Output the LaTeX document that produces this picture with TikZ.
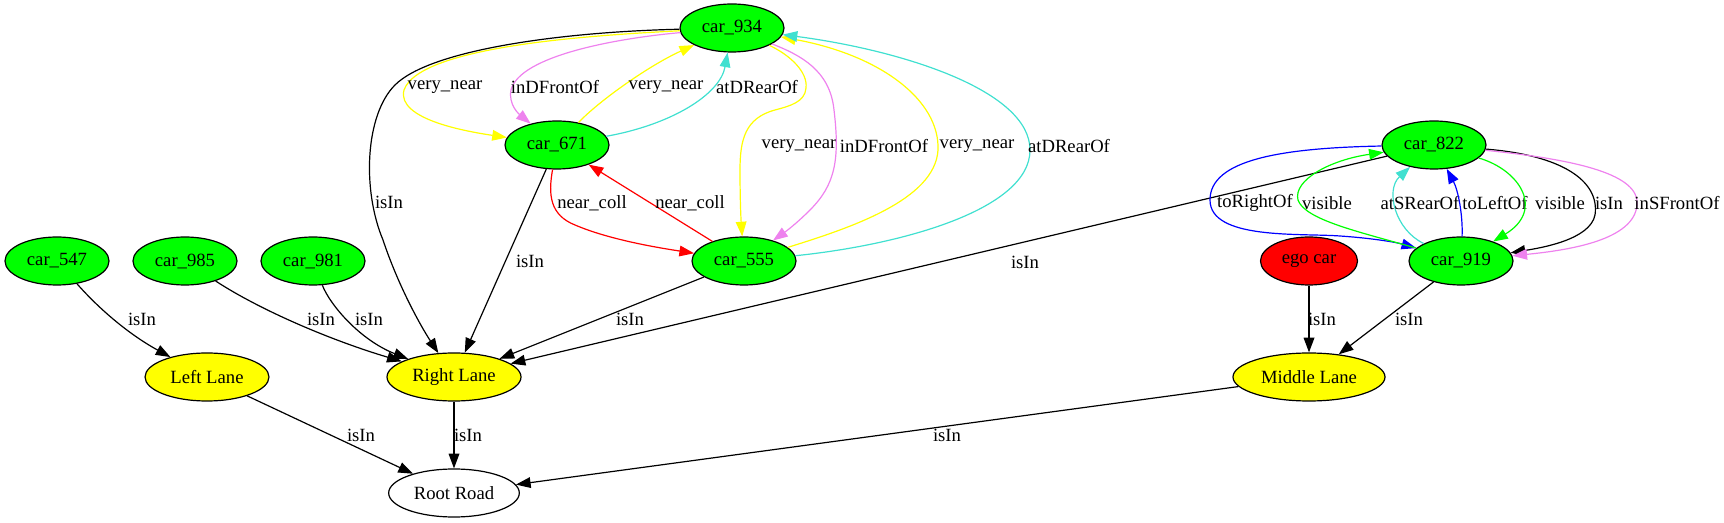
\documentclass[tikz,border=0pt]{standalone}
\usepackage{fontspec}
\setmainfont{Liberation Serif}
\usetikzlibrary{shapes.geometric,arrows.meta}
\definecolor{gvgreen}{HTML}{00FF00}
\definecolor{gvyellow}{HTML}{FFFF00}
\definecolor{gvred}{HTML}{FF0000}
\definecolor{gvturq}{HTML}{40E0D0}
\definecolor{gvviolet}{HTML}{EE82EE}
\definecolor{gvblue}{HTML}{0000FF}
\begin{document}
\begin{tikzpicture}[x=0.75pt,y=-0.75pt,
	every node/.style={font=\fontsize{14}{16}\selectfont},
	obj/.style={ellipse,draw=black,line width=0.9pt,inner sep=0pt,minimum width=78pt,minimum height=36pt},
	car/.style={obj,fill=gvgreen},
	lane/.style={obj,fill=gvyellow},
	rel/.style={line width=0.9pt,-{Triangle[length=11pt,width=8pt]}},
	lbl/.style={inner sep=0pt}]
	\useasboundingbox (0,0) rectangle (1724,523);
	% cars
	\node[car] (c934) at (732,28) {car\_934};
	\node[car] (c671) at (557,145) {car\_671};
	\node[car] (c822) at (1434,145) {car\_822};
	\node[car] (c547) at (57,261) {car\_547};
	\node[car] (c985) at (185,261) {car\_985};
	\node[car] (c981) at (313,261) {car\_981};
	\node[car] (c555) at (744,261) {car\_555};
	\node[car] (c919) at (1461,261) {car\_919};
	\node[obj,fill=gvred,minimum width=72.75pt] (ego) at (1309,261) {ego car};
	% lanes and road
	\node[lane,minimum width=93pt] (left) at (207,377) {Left Lane};
	\node[lane,minimum width=100.5pt] (right) at (454,377) {Right Lane};
	\node[lane,minimum width=114pt] (middle) at (1309,377) {Middle Lane};
	\node[obj,fill=white,minimum width=98pt] (root) at (454,493) {Root Road};
	% car_934 edges
	\draw[rel,black] (c934) .. controls (560,32) and (430,50) .. (395,85) .. controls (365,115) and (362,190) .. (383,240) .. controls (398,285) and (420,325) .. (right);
	\node[lbl] (isin934) at (389,202) {isIn};
	\draw[rel,gvyellow] (c934) .. controls (600,35) and (420,45) .. (404,90) .. controls (396,120) and (470,132) .. (c671);
	\node[lbl] (vn934a) at (445,87) {very\_near};
	\draw[rel,gvviolet] (c934) .. controls (620,38) and (520,55) .. (511,90) .. controls (508,105) and (520,115) .. (c671);
	\node[lbl] (fr934a) at (555,87) {inDFrontOf};
	\draw[rel,gvyellow] (c934) .. controls (790,55) and (808,72) .. (806,88) .. controls (805,102) and (790,106) .. (775,110) .. controls (745,118) and (740,140) .. (740,170) .. controls (740,200) and (741,220) .. (c555);
	\node[lbl] (vn934b) at (799,146) {very\_near};
	\draw[rel,gvviolet] (c934) .. controls (800,55) and (830,70) .. (834,110) .. controls (840,160) and (835,185) .. (810,210) .. controls (795,225) and (785,232) .. (c555);
	\node[lbl] (fr934b) at (884,146) {inDFrontOf};
	% car_671 edges
	\draw[rel,gvyellow] (c671) .. controls (600,100) and (650,65) .. (c934);
	\node[lbl] (vn671) at (666,87) {very\_near};
	\draw[rel,gvturq] (c671) .. controls (670,125) and (720,95) .. (c934);
	\node[lbl] (rr671) at (757,87) {atDRearOf};
	\draw[rel,gvred] (c671) .. controls (548,195) and (550,215) .. (575,225) .. controls (610,240) and (660,248) .. (c555);
	\node[lbl] (nc671) at (592,203) {near\_coll};
	\draw[rel,black] (c671) -- (right);
	\node[lbl] (isin671) at (530,261) {isIn};
	% car_555 edges
	\draw[rel,gvred] (c555) -- (c671);
	\node[lbl] (nc555) at (690,203) {near\_coll};
	\draw[rel,gvyellow] (c555) .. controls (850,228) and (935,200) .. (938,150) .. controls (940,100) and (880,55) .. (c934);
	\node[lbl] (vn555) at (977,146) {very\_near};
	\draw[rel,gvturq] (c555) .. controls (900,245) and (1030,210) .. (1030,150) .. controls (1030,90) and (900,50) .. (c934);
	\node[lbl] (rr555) at (1069,146) {atDRearOf};
	\draw[rel,black] (c555) -- (right);
	\node[lbl] (isin555) at (630,319) {isIn};
	% cars on the left
	\draw[rel,black] (c547) .. controls (100,310) and (130,335) .. (left);
	\node[lbl] (isin547) at (142,319) {isIn};
	\draw[rel,black] (c985) .. controls (260,310) and (330,340) .. (right);
	\node[lbl] (isin985) at (321,319) {isIn};
	\draw[rel,black] (c981) .. controls (330,305) and (360,340) .. (right);
	\node[lbl] (isin981) at (369,319) {isIn};
	% car_822 and car_919
	\draw[rel,black] (c822) -- (right);
	\node[lbl] (isin822) at (1025,262) {isIn};
	\draw[rel,gvblue] (c822) .. controls (1280,148) and (1210,160) .. (1210,200) .. controls (1210,240) and (1300,233) .. (1340,236) .. controls (1370,238) and (1395,242) .. (c919);
	\node[lbl] (ro822) at (1255,203) {toRightOf};
	\draw[rel,gvgreen] (c919) .. controls (1360,232) and (1305,220) .. (1298,200) .. controls (1293,180) and (1330,160) .. (c822);
	\node[lbl] (vis919) at (1327,203) {visible};
	\draw[rel,gvturq] (c919) .. controls (1395,230) and (1385,190) .. (c822);
	\node[lbl] (sr919) at (1420,203) {atSRearOf};
	\draw[rel,gvblue] (c919) .. controls (1463,215) and (1458,190) .. (c822);
	\node[lbl] (lo919) at (1495,203) {toLeftOf};
	\draw[rel,gvgreen] (c822) .. controls (1520,170) and (1545,210) .. (c919);
	\node[lbl] (vis822) at (1560,203) {visible};
	\draw[rel,black] (c822) .. controls (1560,155) and (1600,180) .. (1595,215) .. controls (1590,240) and (1540,248) .. (c919);
	\node[lbl] (isin822b) at (1609,203) {isIn};
	\draw[rel,gvviolet] (c822) .. controls (1580,160) and (1640,175) .. (1637,205) .. controls (1634,240) and (1570,250) .. (c919);
	\node[lbl] (sf822) at (1677,203) {inSFrontOf};
	% lanes into the road
	\draw[rel,black] (ego) -- (middle);
	\node[lbl] (isinego) at (1322,319) {isIn};
	\draw[rel,black] (c919) -- (middle);
	\node[lbl] (isin919) at (1409,319) {isIn};
	\draw[rel,black] (left) -- (root);
	\node[lbl] (isinleft) at (361,435) {isIn};
	\draw[rel,black] (right) -- (root);
	\node[lbl] (isinright) at (468,435) {isIn};
	\draw[rel,black] (middle) -- (root);
	\node[lbl] (isinmid) at (947,435) {isIn};
\end{tikzpicture}
\end{document}
